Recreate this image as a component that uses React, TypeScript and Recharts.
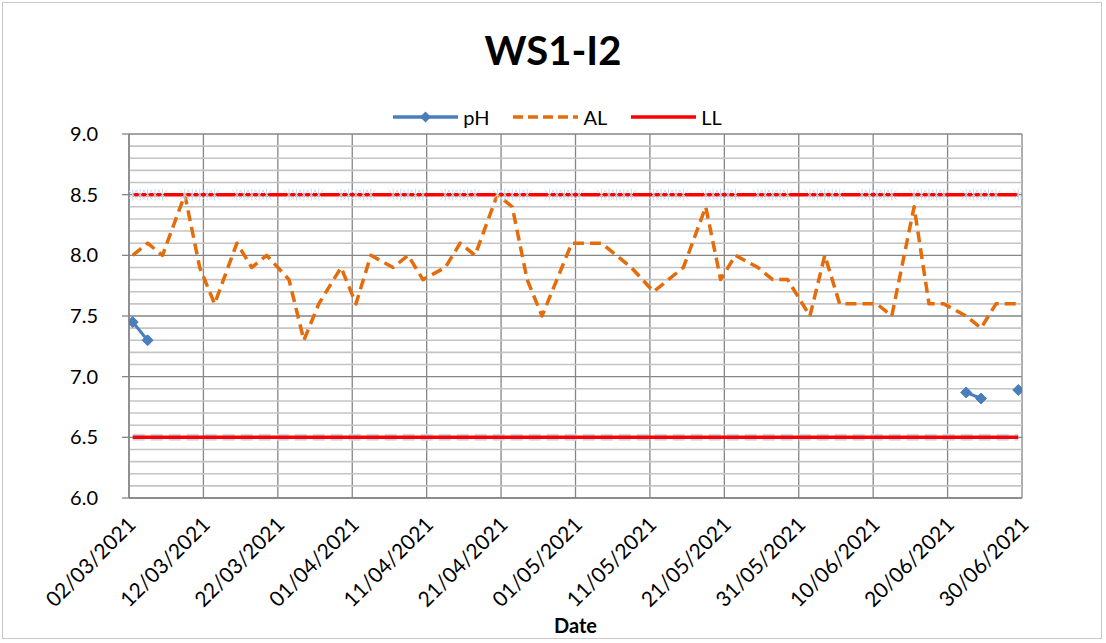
import React from 'react';
import { LineChart, Line, XAxis, YAxis, CartesianGrid, ReferenceLine } from 'recharts';

// ---------- data ----------
const TITLE = 'WS1-I2';
const X_LABEL = 'Date';
const X_TICKS = [
  '02/03/2021', '12/03/2021', '22/03/2021', '01/04/2021', '11/04/2021', '21/04/2021', '01/05/2021',
  '11/05/2021', '21/05/2021', '31/05/2021', '10/06/2021', '20/06/2021', '30/06/2021',
];
const Y_TICKS = [6.0, 6.5, 7.0, 7.5, 8.0, 8.5, 9.0];
const Y_MINOR_STEP = 0.1;
const READING_HOUR = 12;

const AL_DATES = [
  '02/03/2021', '04/03/2021', '06/03/2021', '09/03/2021', '11/03/2021', '13/03/2021', '16/03/2021',
  '18/03/2021', '20/03/2021', '23/03/2021', '25/03/2021', '27/03/2021', '30/03/2021', '01/04/2021',
  '03/04/2021', '06/04/2021', '08/04/2021', '10/04/2021', '13/04/2021', '15/04/2021', '17/04/2021',
  '20/04/2021', '22/04/2021', '24/04/2021', '26/04/2021', '30/04/2021', '04/05/2021', '08/05/2021',
  '11/05/2021', '15/05/2021', '18/05/2021', '20/05/2021', '22/05/2021', '25/05/2021', '27/05/2021',
  '29/05/2021', '01/06/2021', '03/06/2021', '05/06/2021', '10/06/2021', '12/06/2021', '15/06/2021',
  '17/06/2021', '19/06/2021', '22/06/2021', '24/06/2021', '26/06/2021', '29/06/2021',
];
const AL_VALUES = [
  8.0, 8.1, 8.0, 8.5, 7.9, 7.6, 8.1,
  7.9, 8.0, 7.8, 7.3, 7.6, 7.9, 7.6,
  8.0, 7.9, 8.0, 7.8, 7.9, 8.1, 8.0,
  8.5, 8.4, 7.8, 7.5, 8.1, 8.1, 7.9,
  7.7, 7.9, 8.4, 7.8, 8.0, 7.9, 7.8,
  7.8, 7.5, 8.0, 7.6, 7.6, 7.5, 8.4,
  7.6, 7.6, 7.5, 7.4, 7.6, 7.6,
];

const PH_DATES = ['02/03/2021', '04/03/2021', '06/03/2021', '22/06/2021', '24/06/2021', '26/06/2021', '29/06/2021'];
const PH_VALUES: (number | null)[] = [7.45, 7.3, null, 6.87, 6.82, null, 6.89];

const LL_DATES = ['02/03/2021', '29/06/2021'];
const LL_UPPER = [8.5, 8.5];
const LL_LOWER = [6.5, 6.5];
// readings were taken Tuesday to Saturday (hidden marker series on the upper limit)
const READING_WEEKDAYS = [2, 3, 4, 5, 6];

// ---------- helpers ----------
const DAY = 86400000;
const parseDate = (s: string) => {
  const [d, m, y] = s.split('/').map(Number);
  return Date.UTC(y, m - 1, d);
};
const readingTime = (s: string) => parseDate(s) + READING_HOUR * 3600000;
const rows = (dates: string[], values: (number | null)[]) =>
  dates.map((d, i) => ({ t: readingTime(d), v: values[i] }));

const alData = rows(AL_DATES, AL_VALUES);
const phData = rows(PH_DATES, PH_VALUES);
const llUpperData = rows(LL_DATES, LL_UPPER);
const llLowerData = rows(LL_DATES, LL_LOWER);
const markerData: { t: number; v: number }[] = [];
for (let t = parseDate(LL_DATES[0]); t <= parseDate(LL_DATES[1]); t += DAY) {
  if (READING_WEEKDAYS.includes(new Date(t).getUTCDay())) markerData.push({ t: t + READING_HOUR * 3600000, v: LL_UPPER[0] });
}
const xTicks = X_TICKS.map(parseDate);
const xLabelOf: Record<number, string> = {};
X_TICKS.forEach((s, i) => (xLabelOf[xTicks[i]] = s));
const yMinor: number[] = [];
for (let i = 1; Y_TICKS[0] + i * Y_MINOR_STEP < Y_TICKS[Y_TICKS.length - 1] - 1e-9; i++) {
  const v = Math.round((Y_TICKS[0] + i * Y_MINOR_STEP) * 10) / 10;
  if (!Y_TICKS.some((t) => Math.abs(t - v) < 1e-9)) yMinor.push(v);
}

// ---------- styles ----------
const FONT = 'Lato, "Open Sans", sans-serif';
const COLORS = { pH: '#4a7ebb', AL: '#e46c0a', LL: '#ff0000', hidden: '#c2dcec', major: '#868686', minor: '#c4c4c4' };
const W = 1106;
const H = 643;

const Diamond = (props: any) => {
  const { cx, cy, payload } = props;
  if (payload == null || payload.v == null || cx == null || cy == null) return <g />;
  const r = 5.5;
  return <path d={`M${cx},${cy - r}L${cx + r},${cy}L${cx},${cy + r}L${cx - r},${cy}Z`} fill={COLORS.pH} stroke={COLORS.pH} strokeWidth={1} />;
};

const Asterisk = (props: any) => {
  const { cx, cy } = props;
  if (cx == null || cy == null) return <g />;
  const r = 5;
  return (
    <g stroke={COLORS.hidden} strokeWidth={1}>
      <line x1={cx - r} y1={cy - r} x2={cx + r} y2={cy + r} />
      <line x1={cx - r} y1={cy + r} x2={cx + r} y2={cy - r} />
      <line x1={cx} y1={cy - r - 1} x2={cx} y2={cy + r + 1} />
    </g>
  );
};

const XTick = (props: any) => {
  const { x, y, payload } = props;
  return (
    <g transform={`translate(${x + 8},${y + 28})`}>
      <text transform="rotate(-45)" textAnchor="end" fontSize={21} fontFamily={FONT} fill="#000">
        {xLabelOf[payload.value]}
      </text>
    </g>
  );
};

const LEGEND = [
  { name: 'pH', color: COLORS.pH, kind: 'diamond' },
  { name: 'AL', color: COLORS.AL, kind: 'dash' },
  { name: 'LL', color: COLORS.LL, kind: 'solid' },
];

const LegendIcon = ({ kind, color }: { kind: string; color: string }) => (
  <svg width={67} height={14} style={{ display: 'block' }}>
    <line x1={1} y1={7} x2={66} y2={7} stroke={color} strokeWidth={3.5} strokeDasharray={kind === 'dash' ? '10 5' : undefined} />
    {kind === 'diamond' && <path d="M33.5,1.5L39,7L33.5,12.5L28,7Z" fill={color} />}
  </svg>
);

export default function App() {
  return (
    <div style={{ position: 'absolute', left: 0, top: 0, width: W, height: H, background: '#fff', fontFamily: FONT }}>
      <div
        style={{
          position: 'absolute', left: 2, top: 2, width: W - 6, height: H - 6,
          border: '1px solid #c8c8c8', boxSizing: 'border-box', pointerEvents: 'none',
        }}
      />
      <div style={{ position: 'absolute', left: 0, top: 26, width: W, textAlign: 'center', fontSize: 40, fontWeight: 700, color: '#000', lineHeight: 'normal' }}>
        {TITLE}
      </div>
      <div style={{ position: 'absolute', left: 4, top: 104, width: W, display: 'flex', justifyContent: 'center', alignItems: 'center', height: 26 }}>
        {LEGEND.map((l, i) => (
          <div key={l.name} style={{ display: 'flex', alignItems: 'center', marginRight: i === LEGEND.length - 1 ? 0 : 23 }}>
            <LegendIcon kind={l.kind} color={l.color} />
            <span style={{ fontSize: 20, marginLeft: 4, color: '#000' }}>{l.name}</span>
          </div>
        ))}
      </div>
      <div style={{ position: 'absolute', left: 0, top: 0 }}>
        <LineChart width={W} height={H} margin={{ top: 134, right: 84, bottom: 0, left: 69 }}>
          <CartesianGrid stroke={COLORS.major} strokeWidth={1.3} />
          {yMinor.map((v) => (
            <ReferenceLine key={v} y={v} stroke={COLORS.minor} strokeWidth={1.6} ifOverflow="hidden" />
          ))}
          <XAxis
            dataKey="t"
            type="number"
            scale="linear"
            domain={[xTicks[0], xTicks[xTicks.length - 1]]}
            ticks={xTicks}
            interval={0}
            allowDataOverflow
            height={145}
            tickSize={0}
            tickMargin={0}
            tickLine={false}
            axisLine={{ stroke: COLORS.major, strokeWidth: 1.5 }}
            tick={<XTick />}
            label={({ viewBox }: any) => (
              <text x={viewBox.x + viewBox.width / 2} y={viewBox.y + 135} textAnchor="middle" fontSize={20} fontWeight={700} fontFamily={FONT} fill="#000">
                {X_LABEL}
              </text>
            )}
          />
          <YAxis
            type="number"
            domain={[Y_TICKS[0], Y_TICKS[Y_TICKS.length - 1]]}
            ticks={Y_TICKS}
            interval={0}
            width={60}
            tickSize={7}
            tickMargin={24}
            tickFormatter={(v: number) => v.toFixed(1)}
            tick={{ fontSize: 20, fill: '#000', fontFamily: FONT }}
            tickLine={{ stroke: COLORS.major, strokeWidth: 1.3 }}
            axisLine={{ stroke: COLORS.major, strokeWidth: 1.5 }}
          />
          <Line data={llLowerData} dataKey="v" name="LL-hidden" stroke={COLORS.hidden} strokeWidth={7} strokeDasharray="12 6" dot={false} legendType="none" isAnimationActive={false} />
          <Line data={markerData} dataKey="v" name="UL-hidden" stroke="none" dot={<Asterisk />} activeDot={false} legendType="none" isAnimationActive={false} />
          <Line data={llUpperData} dataKey="v" name="LL" stroke={COLORS.LL} strokeWidth={3.5} dot={false} isAnimationActive={false} />
          <Line data={llLowerData} dataKey="v" name="LL-low" stroke={COLORS.LL} strokeWidth={3.5} dot={false} legendType="none" isAnimationActive={false} />
          <Line data={alData} dataKey="v" name="AL" type="linear" stroke={COLORS.AL} strokeWidth={3.5} strokeDasharray="11 6" strokeLinejoin="round" dot={false} isAnimationActive={false} />
          <Line data={phData} dataKey="v" name="pH" stroke={COLORS.pH} strokeWidth={3} dot={<Diamond />} connectNulls={false} isAnimationActive={false} />
        </LineChart>
      </div>
    </div>
  );
}
